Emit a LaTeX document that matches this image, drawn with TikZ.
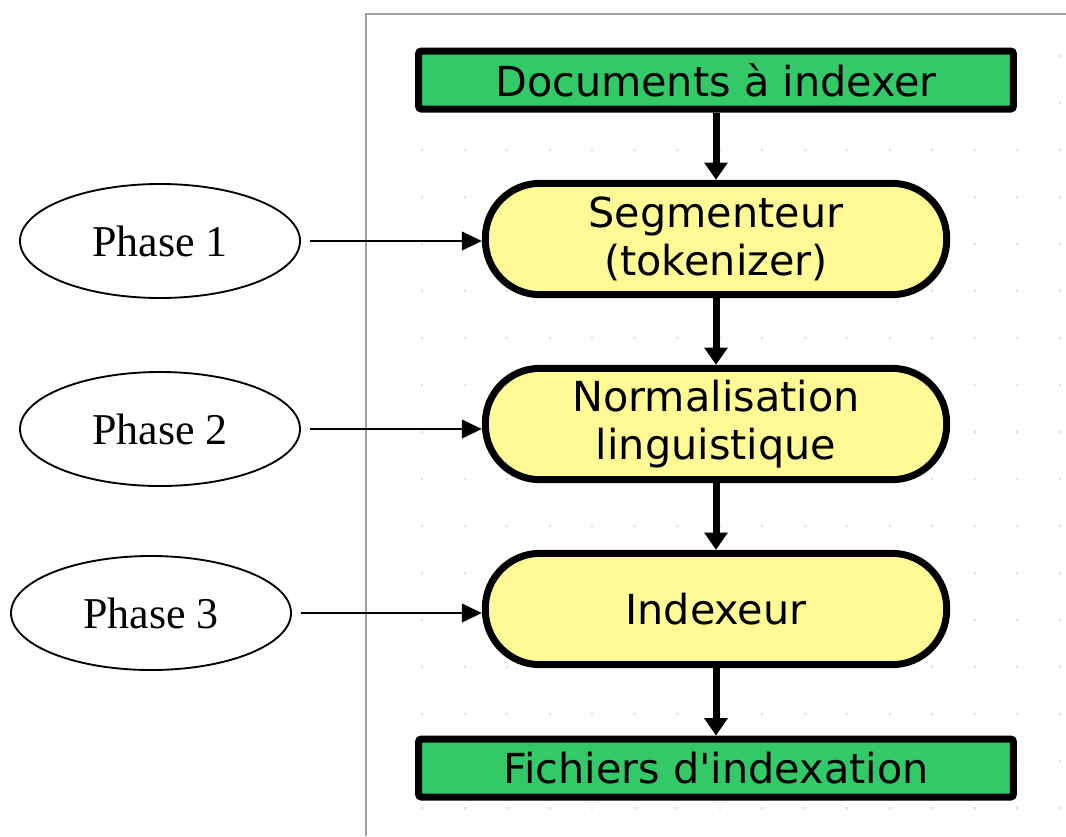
\documentclass[tikz,border=0pt]{standalone}
\usepackage{fontspec}
\setmainfont{Liberation Serif}
\newfontfamily\boxfont{DejaVu Sans}
\usetikzlibrary{shapes.geometric,arrows.meta}

\definecolor{boxgreen}{RGB}{52,201,104}
\definecolor{boxyellow}{RGB}{255,250,150}
\definecolor{framegray}{RGB}{160,160,160}
\definecolor{dotgray}{RGB}{215,215,215}

\tikzset{
  greenbox/.style={draw=black, fill=boxgreen, line width=5.25pt, rounded corners=2pt,
    minimum width=446pt, minimum height=43.5pt, inner sep=0pt,
    font=\boxfont\fontsize{31}{33}\selectfont},
  yellowbox/.style={draw=black, fill=boxyellow, line width=5.25pt, rounded corners=41pt,
    minimum width=346pt, minimum height=83.5pt, inner sep=0pt, align=center,
    font=\boxfont\fontsize{31}{36.5}\selectfont},
  phase/.style={draw=black, ellipse, line width=1.4pt, minimum width=210pt,
    minimum height=85.5pt, inner sep=0pt, font=\fontsize{33}{35}\selectfont},
  flow/.style={line width=5.25pt, -{Triangle[length=13pt,width=17pt]}},
  link/.style={line width=1.6pt, -{Triangle[length=15pt,width=14pt]}},
}

\begin{document}
\begin{tikzpicture}[x=0.75pt,y=-0.75pt]
\useasboundingbox (0,0) rectangle (1066,836);
\fill[white] (0,0) rectangle (1066,836);

% faint grid of the drawing canvas
\foreach \gx in {422,465,507,550,592,635,677,720,762,805,847,890,932,975,1017,1060}
  \foreach \gy in {56,103,150,197,244,291,338,385,432,479,526,573,620,667,714,761,808}
    \fill[dotgray] (\gx,\gy) circle (0.9pt);

% canvas frame
\draw[framegray, line width=1.5pt] (366,836) -- (366,14) -- (1066,14);

% processing chain
\node[greenbox]  (docs) at (716,80)  {Documents à indexer};
\node[yellowbox] (seg)  at (716,239) {Segmenteur\\(tokenizer)};
\node[yellowbox] (norm) at (716,424) {Normalisation\\linguistique};
\node[yellowbox] (idx)  at (716,609) {Indexeur};
\node[greenbox]  (out)  at (716,768) {Fichiers d'indexation};

\draw[flow] (docs) -- (seg);
\draw[flow] (seg) -- (norm);
\draw[flow] (norm) -- (idx);
\draw[flow] (idx) -- (out);

% phases
\node[phase] (p1) at (160,241) {Phase 1};
\node[phase] (p2) at (160,429) {Phase 2};
\node[phase] (p3) at (151,613) {Phase 3};

\draw[link] ([xshift=7pt]p1.east) -- (p1.east -| seg.west);
\draw[link] ([xshift=7pt]p2.east) -- (p2.east -| norm.west);
\draw[link] ([xshift=7pt]p3.east) -- (p3.east -| idx.west);
\end{tikzpicture}
\end{document}
